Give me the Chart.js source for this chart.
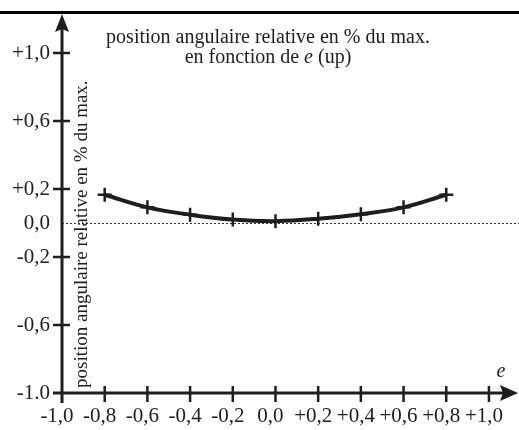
<!DOCTYPE html>
<html>
<head>
<meta charset="utf-8">
<script src="https://cdn.jsdelivr.net/npm/chart.js@4.4.1/dist/chart.umd.min.js"></script>
<style>
  html, body { margin: 0; padding: 0; background: #fff; }
  #wrap { width: 519px; height: 430px; position: relative; }
</style>
</head>
<body>
<div id="wrap"><canvas id="c" width="519" height="430"></canvas></div>
<script>
// ---- data ----
const eValues = [-0.8, -0.6, -0.4, -0.2, 0.0, 0.2, 0.4, 0.6, 0.8];
const positionValues = [0.166, 0.092, 0.049, 0.020, 0.011, 0.025, 0.052, 0.092, 0.166];
const xTickValues = [-1.0, -0.8, -0.6, -0.4, -0.2, 0.0, 0.2, 0.4, 0.6, 0.8, 1.0];
const xTickLabels = ['-1,0', '-0,8', '-0,6', '-0,4', '-0,2', '0,0', '+0,2', '+0,4', '+0,6', '+0,8', '+1,0'];
const yTickValues = [-1.0, -0.6, -0.2, 0.0, 0.2, 0.6, 1.0];
const yTickLabels = ['-1.0', '-0,6', '-0,2', '0,0', '+0,2', '+0,6', '+1,0'];
const titleLine1 = 'position angulaire relative en % du max.';
const titleLine2Parts = ['en fonction de ', 'e', ' (up)'];
const yAxisTitle = 'position angulaire relative en % du max.';
const xAxisName = 'e';

const INK = '#1e1e1e';
const SERIF = '"Liberation Serif", "DejaVu Serif", serif';

const decor = {
  id: 'decor',
  beforeDatasetsDraw(chart) {
    const ctx = chart.ctx, x = chart.scales.x, y = chart.scales.y;
    const y0 = y.getPixelForValue(0);
    ctx.save();
    ctx.strokeStyle = '#333';
    ctx.lineWidth = 1;
    ctx.setLineDash([2, 2]);
    ctx.beginPath();
    ctx.moveTo(x.getPixelForValue(-1), Math.round(y0) + 0.5);
    ctx.lineTo(chart.width, Math.round(y0) + 0.5);
    ctx.stroke();
    ctx.restore();
  },
  afterDraw(chart) {
    const ctx = chart.ctx, x = chart.scales.x, y = chart.scales.y;
    const ax = x.getPixelForValue(-1);
    const ay = y.getPixelForValue(-1);
    ctx.save();
    // top border
    ctx.fillStyle = '#000';
    ctx.fillRect(0, 11, chart.width, 3);
    // axes
    ctx.strokeStyle = INK;
    ctx.fillStyle = INK;
    ctx.lineWidth = 3;
    ctx.beginPath();
    ctx.moveTo(ax, ay + 10);
    ctx.lineTo(ax, 28);
    ctx.moveTo(ax - 9, ay);
    ctx.lineTo(505, ay);
    ctx.stroke();
    // arrowheads
    ctx.beginPath();
    ctx.moveTo(ax, 14);
    ctx.lineTo(ax + 7, 32);
    ctx.lineTo(ax, 29);
    ctx.lineTo(ax - 7, 32);
    ctx.closePath();
    ctx.fill();
    ctx.beginPath();
    ctx.moveTo(518, ay);
    ctx.lineTo(500, ay - 8);
    ctx.lineTo(503, ay);
    ctx.lineTo(500, ay + 8);
    ctx.closePath();
    ctx.fill();
    // tick marks
    ctx.lineWidth = 2.5;
    ctx.beginPath();
    yTickValues.forEach(v => {
      if (v === 0 || v === -1) return;
      const py = y.getPixelForValue(v);
      ctx.moveTo(ax - 9, py);
      ctx.lineTo(ax + 8, py);
    });
    xTickValues.forEach(v => {
      if (v === -1) return;
      const px = x.getPixelForValue(v);
      ctx.moveTo(px, ay - 7);
      ctx.lineTo(px, ay + 9);
    });
    ctx.stroke();
    // titles
    ctx.fillStyle = INK;
    ctx.textBaseline = 'middle';
    ctx.textAlign = 'center';
    ctx.font = '20px ' + SERIF;
    ctx.fillText(titleLine1, 268, 38);
    const f1 = '20px ' + SERIF, f2 = 'italic 20px ' + SERIF;
    ctx.font = f1; const w0 = ctx.measureText(titleLine2Parts[0]).width;
    const w2 = ctx.measureText(titleLine2Parts[2]).width;
    ctx.font = f2; const w1 = ctx.measureText(titleLine2Parts[1]).width;
    let sx = 268 - (w0 + w1 + w2) / 2;
    ctx.textAlign = 'left';
    ctx.font = f1; ctx.fillText(titleLine2Parts[0], sx, 58); sx += w0;
    ctx.font = f2; ctx.fillText(titleLine2Parts[1], sx, 58); sx += w1;
    ctx.font = f1; ctx.fillText(titleLine2Parts[2], sx, 58);
    // axis name e
    ctx.font = 'italic 20px ' + SERIF;
    ctx.textAlign = 'center';
    ctx.fillText(xAxisName, 501, 372);
    // vertical y title
    ctx.save();
    ctx.translate(82, 388);
    ctx.rotate(-Math.PI / 2);
    ctx.font = '19px ' + SERIF;
    ctx.textAlign = 'left';
    ctx.textBaseline = 'middle';
    ctx.fillText(yAxisTitle, 0, 0);
    ctx.restore();
    ctx.restore();
  }
};

new Chart(document.getElementById('c'), {
  type: 'scatter',
  data: {
    datasets: [{
      data: eValues.map((e, i) => ({ x: e, y: positionValues[i] })),
      showLine: true,
      tension: 0.4,
      borderColor: INK,
      borderWidth: 4,
      pointStyle: 'cross',
      pointRadius: 7,
      pointBorderWidth: 2.5,
      pointBorderColor: INK,
      pointBackgroundColor: INK,
      pointHoverRadius: 7
    }]
  },
  options: {
    responsive: false,
    animation: false,
    devicePixelRatio: 1,
    layout: { padding: { top: 53, right: 30, left: 0, bottom: 0 } },
    plugins: { legend: { display: false }, tooltip: { enabled: false }, title: { display: false } },
    scales: {
      x: {
        type: 'linear', min: -1, max: 1,
        afterBuildTicks: s => { s.ticks = xTickValues.map(v => ({ value: v })); },
        afterFit: s => { s.height = 37; },
        grid: { display: false, drawTicks: false },
        border: { display: false },
        ticks: {
          autoSkip: false, maxRotation: 0, minRotation: 0, padding: 11, labelOffset: -5,
          color: INK, font: { family: SERIF, size: 21 },
          callback: (v, i) => xTickLabels[i]
        }
      },
      y: {
        type: 'linear', min: -1, max: 1,
        afterBuildTicks: s => { s.ticks = yTickValues.map(v => ({ value: v })); },
        afterFit: s => { s.width = 62; },
        grid: { display: false, drawTicks: false },
        border: { display: false },
        ticks: {
          autoSkip: false, padding: 12,
          color: INK, font: { family: SERIF, size: 21 },
          callback: (v, i) => yTickLabels[i]
        }
      }
    }
  },
  plugins: [decor]
});
</script>
</body>
</html>
